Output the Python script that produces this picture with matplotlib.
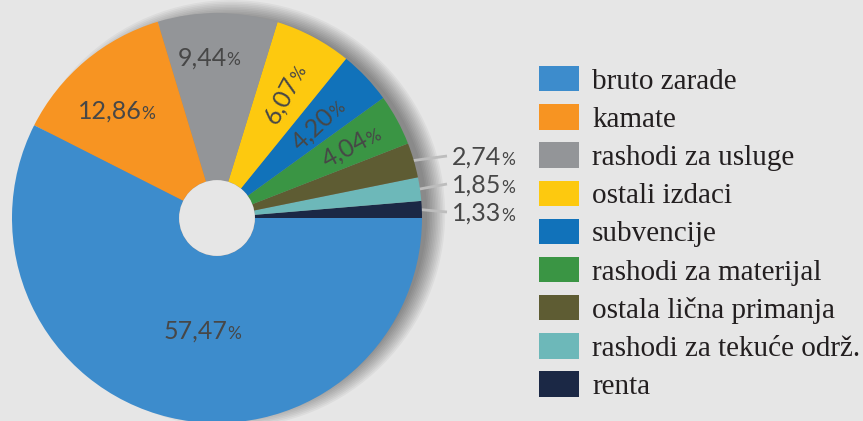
import numpy as np
import matplotlib.pyplot as plt
from matplotlib.patches import Circle

# data (percent of total), listed counter-clockwise from 3 o'clock
categories = ["renta", "rashodi za tekuće održ.", "ostala lična primanja",
              "rashodi za materijal", "subvencije", "ostali izdaci",
              "rashodi za usluge", "kamate", "bruto zarade"]
values = [1.33, 1.85, 2.74, 4.04, 4.20, 6.07, 9.44, 12.86, 57.47]
labels = ["1,33", "1,85", "2,74", "4,04", "4,20", "6,07", "9,44", "12,86", "57,47"]
colors = ["#1b2845", "#6db8b9", "#5e5c33", "#3a9544", "#1172ba",
          "#fdc90f", "#939598", "#f79422", "#3d8ccc"]

# label placement: inside (distance, rotate?) or outside
label_dist = [None, None, None, 0.74, 0.67, 0.69, 0.79, 0.72, 0.55]
label_rot = [False, False, False, True, True, True, False, False, False]
angle_nudge = [0, 0, 0, 0, 0, 0, 3, 3, 6]

BG = "#e6e6e6"
TXT = "#474747"
W, H, DPI = 863, 421, 100
R = 205  # pie radius in px
cx, cy = 217, 421 - 218
HOLE = 0.185

fig = plt.figure(figsize=(W / DPI, H / DPI), dpi=DPI, facecolor=BG)
ax = fig.add_axes([0, 0, 1, 1])
ax.set_facecolor(BG)

# soft shadow on the right of the pie
for k in range(12):
    ax.add_patch(Circle((0.07, 0.02), 0.955 + k * 0.008, color="black",
                        alpha=0.04, lw=0, zorder=0))

wedges, _ = ax.pie(values, colors=colors, startangle=0, counterclock=True,
                   radius=1.0, wedgeprops=dict(width=1 - HOLE, lw=0),
                   frame=True)
for w in wedges:
    w.set_zorder(2)
ax.add_patch(Circle((0, 0), HOLE, color=BG, lw=0, zorder=3))
ax.set_xlim(-cx / R, (W - cx) / R)
ax.set_ylim(-cy / R, (H - cy) / R)
ax.set_aspect("auto")
ax.axis("off")

renderer = fig.canvas.get_renderer()
to_disp = ax.transData.transform
to_data = ax.transData.inverted().transform
NUM_FS, PCT_FS = 18, 12.5


def pct_label(xd, yd, num, rot, ha="center"):
    # number + smaller % sign, centred at (xd, yd) in data coords
    t1 = ax.text(0, 0, num, fontsize=NUM_FS, family="Lato", color=TXT)
    t2 = ax.text(0, 0, "%", fontsize=PCT_FS, family="Lato", color=TXT)
    w1 = t1.get_window_extent(renderer).width
    w2 = t2.get_window_extent(renderer).width
    th = np.deg2rad(rot)
    d = np.array([np.cos(th), np.sin(th)])
    n = np.array([-np.sin(th), np.cos(th)])
    p = to_disp((xd, yd))
    cap = NUM_FS * DPI / 72 * 0.72
    start = p - (d * (w1 + w2) / 2 if ha == "center" else 0) - n * cap / 2
    for t, s in ((t1, start), (t2, start + d * w1)):
        t.set_position(to_data(s))
        t.set_rotation(rot)
        t.set_rotation_mode("anchor")
        t.set_ha("left")
        t.set_va("baseline")
        t.set_zorder(5)


out_y = [212, 184, 156]  # px from top for outside labels
for i, w in enumerate(wedges):
    mid = (w.theta1 + w.theta2) / 2
    if label_dist[i] is None:
        a = np.deg2rad(mid)
        ystar = (421 - out_y[i] - cy) / R
        x_end = (447 - cx) / R
        ax.plot([np.cos(a) * 0.99, x_end], [np.sin(a) * 0.99, ystar],
                color="#bdbdbd", lw=2, zorder=1, solid_capstyle="butt")
        pct_label((452 - cx) / R, ystar, labels[i], 0, ha="left")
    else:
        a = np.deg2rad(mid + angle_nudge[i])
        rot = mid if label_rot[i] else 0
        pct_label(label_dist[i] * np.cos(a), label_dist[i] * np.sin(a),
                  labels[i], rot)

# legend in the original order (bruto zarade first)
order = list(range(len(wedges)))[::-1]
leg = fig.legend([wedges[i] for i in order], [categories[i] for i in order],
                 loc="upper left", bbox_to_anchor=(539 / W, 1 - 66 / H),
                 frameon=False, prop=dict(family="Liberation Serif", size=21),
                 handlelength=1.37, handleheight=0.96, handletextpad=0.45,
                 labelspacing=0.325, borderpad=0, borderaxespad=0)
for t in leg.get_texts():
    t.set_color("#231f20")

fig.savefig("out.png", dpi=DPI, facecolor=BG)
